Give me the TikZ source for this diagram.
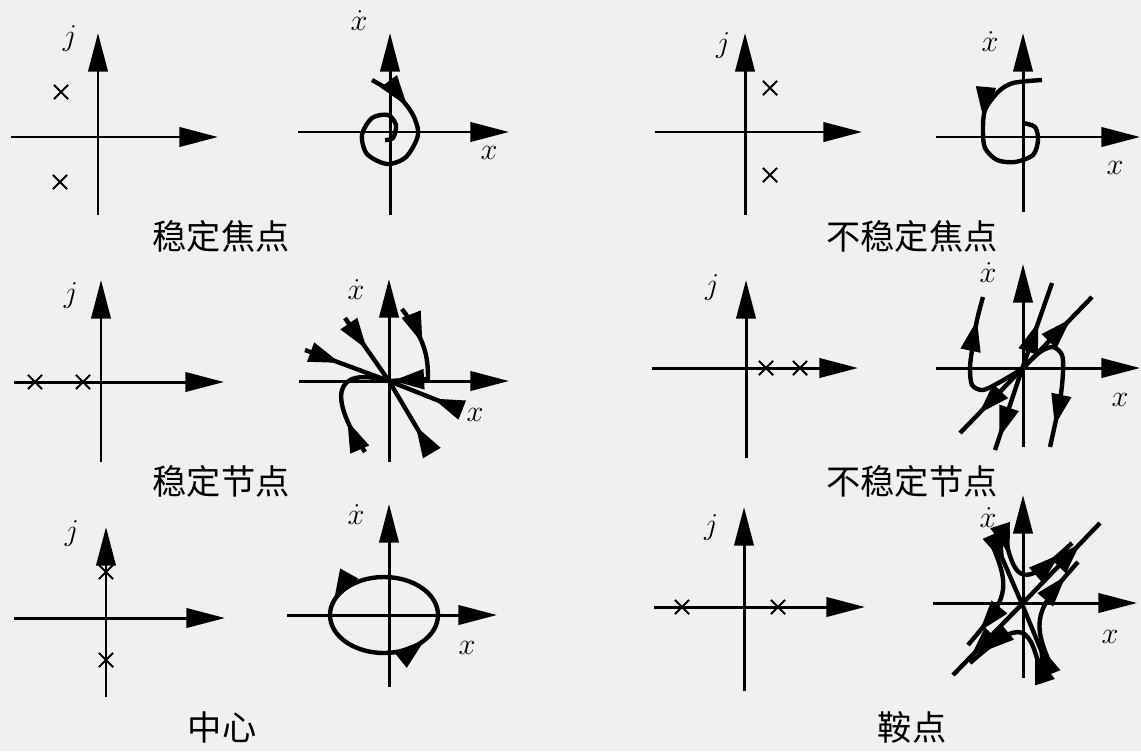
\documentclass[tikz,border=0pt]{standalone}
\usepackage{fontspec}
\newfontfamily\cjk{Noto Sans CJK SC}
\usetikzlibrary{arrows.meta,decorations.markings,shapes.misc}
\definecolor{panelbg}{HTML}{F0F0F0}

\begin{document}
\begin{tikzpicture}[
    x=0.02cm, y=-0.02cm,
    every node/.style={inner sep=0pt},
    axis/.style={line width=1.7pt, -{Triangle[length=22pt,width=11pt]}},
    traj/.style={line width=2.5pt, line join=round},
    flow/.style={postaction={decorate, decoration={markings,
        mark=at position #1 with {\arrow{Triangle[length=18pt,width=11pt]}}}}},
    pole/.style={draw, cross out, line width=1.1pt, minimum size=7pt},
    sym/.style={font=\fontsize{18}{20}\selectfont},
    caption/.style={font=\cjk\fontsize{19.5}{22}\selectfont}
]

\fill[panelbg] (0,0) rectangle (1141,751);
\useasboundingbox (0,0) rectangle (1141,751);

% Stable focus
\draw[axis] (11,137) -- (218,137);
\draw[axis] (98,215) -- (98,33);
\node[sym] (j1) at (70,38) {$j$};
\node[pole] (p1a) at (61,92) {};
\node[pole] (p1b) at (60,182) {};

\draw[axis] (298,132) -- (509,132);
\draw[axis] (390,215) -- (390,33);
\node[sym] (xd2) at (359,21) {$\dot{x}$};
\node[sym] (x2) at (489,153) {$x$};
\draw[traj, flow=0.19] plot[smooth] coordinates {(372,80) (398,96) (413,115) (418,135)
    (406,157) (387,164) (367,154) (362,135) (372,118) (388,115) (396,125) (393,138) (385,140)};

\node[caption] (c1) at (221,236) {稳定焦点};

% Unstable focus
\draw[axis] (655,132) -- (862,132);
\draw[axis] (745,215) -- (745,33);
\node[sym] (j3) at (723,45) {$j$};
\node[pole] (p3a) at (770,88) {};
\node[pole] (p3b) at (770,175) {};

\draw[axis] (936,137) -- (1140,137);
\draw[axis] (1023,212) -- (1023,33);
\node[sym] (xd4) at (990,42) {$\dot{x}$};
\node[sym] (x4) at (1115,168) {$x$};
\draw[traj, flow=0.38] plot[smooth] coordinates {(1042,80) (1013,83) (998,92) (985,110)
    (983,130) (985,148) (997,160) (1015,162) (1033,155) (1038,140) (1035,127) (1023,123)};

\node[caption] (c2) at (912,236) {不稳定焦点};

% Stable node
\draw[axis] (14,382) -- (224,382);
\draw[axis] (101,462) -- (101,280);
\node[sym] (j5) at (71,295) {$j$};
\node[pole] (p5a) at (35,382) {};
\node[pole] (p5b) at (83,382) {};

\draw[axis] (299,381) -- (509,381);
\draw[axis] (389,462) -- (389,279);
\node[sym] (xd6) at (356,290) {$\dot{x}$};
\node[sym] (x6) at (475,415) {$x$};
\coordinate (o6) at (389,381);
\draw[traj, flow=0.5] (345,318) -- (o6);
\draw[traj, flow=0.35, flow=0.97] (402,309) .. controls (425,340) and (428,355) .. (428,379) -- (o6);
\draw[traj, flow=0.42] (305,350) -- (o6);
\draw[traj, flow=0.3] (365,452) .. controls (330,400) and (330,365) .. (o6);
\draw[traj, flow=0.4] (462,410) -- (o6);
\draw[traj, flow=0.35] (430,450) -- (o6);

\node[caption] (c3) at (221,481) {稳定节点};

% Unstable node
\draw[axis] (652,368) -- (858,368);
\draw[axis] (746,458) -- (746,280);
\node[sym] (j7) at (712,287) {$j$};
\node[pole] (p7a) at (766,368) {};
\node[pole] (p7b) at (800,368) {};

\draw[axis] (936,368) -- (1140,368);
\draw[axis] (1023,447) -- (1023,264);
\node[sym] (xd8) at (988,273) {$\dot{x}$};
\node[sym] (x8) at (1120,400) {$x$};
\coordinate (o8) at (1022,369);
\draw[traj, flow=0.7] (o8) -- (1092,297);
\draw[traj, flow=0.7] (o8) -- (960,433);
\draw[traj, flow=0.55] (o8) -- (1052,283);
\draw[traj, flow=0.85] (o8) -- (995,450);
\draw[traj, flow=0.84] plot[smooth] coordinates {(1022,369) (1000,382) (983,390) (972,385)
    (970,368) (972,350) (977,320) (983,297)};
\draw[traj, flow=0.85] plot[smooth] coordinates {(1022,369) (1040,352) (1053,347) (1062,355)
    (1063,372) (1060,400) (1050,447)};

\node[caption] (c4) at (912,481) {不稳定节点};

% Center
\draw[axis] (14,618) -- (225,618);
\draw[axis] (106,697) -- (106,527);
\node[sym] (j9) at (72,533) {$j$};
\node[pole] (p9a) at (106,572) {};
\node[pole] (p9b) at (106,660) {};

\draw[axis] (287,615) -- (497,615);
\draw[axis] (389,687) -- (389,504);
\node[sym] (xd10) at (356,515) {$\dot{x}$};
\node[sym] (x10) at (467,648) {$x$};
\draw[traj, flow=0.45, flow=0.9] (438,615) .. controls (438,594) and (413.8,577) .. (384,577)
    .. controls (354.2,577) and (330,594) .. (330,615)
    .. controls (330,636) and (354.2,653) .. (384,653)
    .. controls (413.8,653) and (438,636) .. cycle;

\node[caption] (c5) at (222,727) {中心};

% Saddle
\draw[axis] (654,607) -- (865,607);
\draw[axis] (744,691) -- (744,507);
\node[sym] (j11) at (711,527) {$j$};
\node[pole] (p11a) at (682,607) {};
\node[pole] (p11b) at (778,607) {};

\draw[axis] (933,603) -- (1137,603);
\draw[axis] (1023,678) -- (1023,495);
\node[sym] (xd12) at (988,518) {$\dot{x}$};
\node[sym] (x12) at (1110,637) {$x$};
\coordinate (o12) at (1022,604);
\draw[traj, flow=0.75] (o12) -- (1100,523);
\draw[traj, flow=0.75] (o12) -- (953,675);
\draw[traj, flow=0.4] (993,537) -- (o12);
\draw[traj, flow=0.4] (1050,672) -- (o12);
\draw[traj, flow=0.25, flow=0.85] (1003,528) .. controls (1015,585) and (1022,590) .. (1072,543);
\draw[traj, flow=0.25, flow=0.85] (1042,680) .. controls (1030,622) and (1022,617) .. (970,663);
\draw[traj, flow=0.85] (1053,670) .. controls (1030,620) and (1035,610) .. (1078,562);
\draw[traj, flow=0.85] (990,540) .. controls (1012,590) and (1008,598) .. (968,645);

\node[caption] (c6) at (912,727) {鞍点};

\end{tikzpicture}
\end{document}
